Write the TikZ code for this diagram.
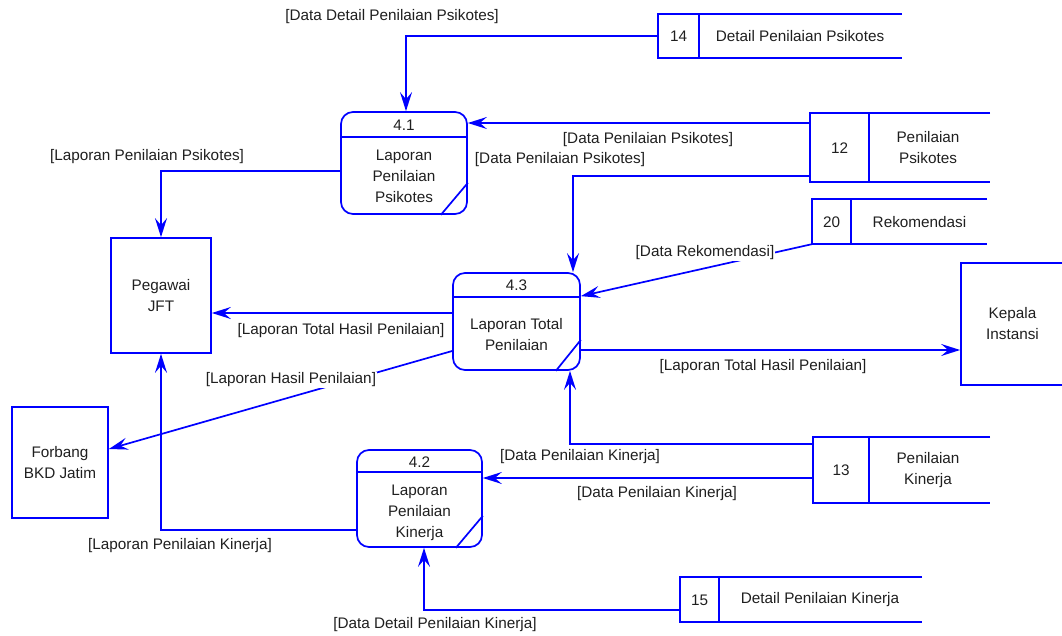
\documentclass[tikz,border=0pt]{standalone}
\usepackage{fontspec}
\setmainfont{Liberation Sans}
\usetikzlibrary{arrows.meta,calc}
\begin{document}
\begin{tikzpicture}[x=1pt,y=-1pt,
  line/.style={draw=blue, line width=1.7pt},
  proc/.style={line, rectangle, rounded corners=12pt, inner sep=0pt},
  ent/.style={line, rectangle, inner sep=0pt, align=center, text=black!88},
  store/.style={rectangle, inner sep=0pt},
  flow/.style={line, -{Stealth[length=19pt,width=12pt,inset=7pt]}},
  lbl/.style={fill=white, inner sep=1pt, text=black!88},
  txt/.style={align=center, inner sep=0pt, text=black!88},
  every node/.append style={font=\fontsize{15.3}{21}\selectfont}
]
\useasboundingbox (0,0) rectangle (1062,636);

% ---------- processes ----------
\node[proc, minimum width=126pt, minimum height=102pt] (p41) at (404,163) {};
\node[proc, minimum width=127pt, minimum height=97pt]  (p43) at (516.5,321.5) {};
\node[proc, minimum width=125pt, minimum height=97pt]  (p42) at (419.5,498.5) {};

\draw[line] ([yshift=-26pt]p41.north west) -- ([yshift=-26pt]p41.north east);
\draw[line] ([xshift=-27pt]p41.south east) -- ([yshift=32pt]p41.south east);
\draw[line] ([yshift=-25pt]p43.north west) -- ([yshift=-25pt]p43.north east);
\draw[line] ([xshift=-25pt]p43.south east) -- ([yshift=31pt]p43.south east);
\draw[line] ([yshift=-23pt]p42.north west) -- ([yshift=-23pt]p42.north east);
\draw[line] ([xshift=-27pt]p42.south east) -- ([yshift=32pt]p42.south east);

\node[txt] (p41n) at (404,125) {4.1};
\node[txt] (p41t) at (404,176) {Laporan\\Penilaian\\Psikotes};
\node[txt] (p43n) at (516.5,285) {4.3};
\node[txt] (p43t) at (516.5,334.5) {Laporan Total\\Penilaian};
\node[txt] (p42n) at (419.5,462) {4.2};
\node[txt] (p42t) at (419.5,512.5) {Laporan\\Penilaian\\Kinerja};

% ---------- external entities ----------
\node[ent, minimum width=100pt, minimum height=115pt] (peg)  at (161,295.5) {Pegawai\\JFT};
\node[ent, minimum width=96pt,  minimum height=111pt] (forb) at (60,462.5) {Forbang\\BKD Jatim};
\node[ent, minimum width=103pt, minimum height=122pt] (kep)  at (1012.5,324) {Kepala\\Instansi};

% ---------- data stores ----------
\node[store, minimum width=244pt, minimum height=44pt] (s14) at (780,36) {};
\node[store, minimum width=180pt, minimum height=69pt] (s12) at (900,147.5) {};
\node[store, minimum width=175pt, minimum height=45pt] (s20) at (899.5,221.5) {};
\node[store, minimum width=177pt, minimum height=66pt] (s13) at (901.5,470) {};
\node[store, minimum width=242pt, minimum height=45pt] (s15) at (801,599.5) {};

\foreach \s/\d in {s14/41, s12/59, s20/39, s13/56, s15/39}{
  \draw[line] (\s.north east) -- (\s.north west) -- (\s.south west) -- (\s.south east);
  \draw[line] ([xshift=\d pt]\s.north west) -- ([xshift=\d pt]\s.south west);
}

\node[txt] (s14i) at (678.5,36) {14};
\node[txt] (s14t) at (800,36) {Detail Penilaian Psikotes};
\node[txt] (s12i) at (839.5,148) {12};
\node[txt] (s12t) at (928,148) {Penilaian\\Psikotes};
\node[txt] (s20i) at (831.5,222) {20};
\node[txt] (s20t) at (919.5,222) {Rekomendasi};
\node[txt] (s13i) at (841,470) {13};
\node[txt] (s13t) at (928,470) {Penilaian\\Kinerja};
\node[txt] (s15i) at (699.5,600) {15};
\node[txt] (s15t) at (820,600) {Detail Penilaian Kinerja};

% ---------- data flows ----------
\coordinate (s12a) at (810,123);
\coordinate (s12b) at (810,176);
\coordinate (s13a) at (813,444);
\coordinate (s13b) at (813,478);
\coordinate (s15a) at (680,610);
\coordinate (p41w) at ([yshift=-8pt]p41.west);
\coordinate (p43w1) at ([yshift=8.5pt]p43.west);
\coordinate (p43w2) at ([yshift=-29.5pt]p43.west);
\coordinate (p43e) at ([yshift=-28.5pt]p43.east);
\coordinate (p42w) at ([yshift=-31.5pt]p42.west);

\draw[flow] (s14.west) -| ([xshift=2pt]p41.north);
\draw[flow] (s12a) -- (s12a -| p41.east);
\draw[flow] (s12b) -| ([xshift=56.5pt]p43.north);
\draw[flow] (s20.south west) -- ([yshift=-24pt]p43.north east);
\draw[flow] (p41w) -| (peg.north);
\draw[flow] (p43w1) -- (p43w1 -| peg.east);
\draw[flow] (p43w2) -- ([yshift=13.5pt]forb.east);
\draw[flow] (p43e) -- (p43e -| kep.west);
\draw[flow] (s13a) -| ([xshift=53.5pt]p43.south);
\draw[flow] (s13b) -- (s13b -| p42.east);
\draw[flow] (p42w) -| (peg.south);
\draw[flow] (s15a) -| ([xshift=4.5pt]p42.south);

% ---------- flow labels ----------
\node[lbl] (l1)  at (392,17)  {[Data Detail Penilaian Psikotes]};
\node[lbl] (l2)  at (648,140) {[Data Penilaian Psikotes]};
\node[lbl] (l3)  at (560,160) {[Data Penilaian Psikotes]};
\node[lbl] (l4)  at (147,157) {[Laporan Penilaian Psikotes]};
\node[lbl] (l5)  at (705,253) {[Data Rekomendasi]};
\node[lbl] (l6)  at (341,331) {[Laporan Total Hasil Penilaian]};
\node[lbl] (l7)  at (291,380) {[Laporan Hasil Penilaian]};
\node[lbl] (l8)  at (763,367) {[Laporan Total Hasil Penilaian]};
\node[lbl] (l9)  at (580,457) {[Data Penilaian Kinerja]};
\node[lbl] (l10) at (657,494) {[Data Penilaian Kinerja]};
\node[lbl] (l11) at (180,546) {[Laporan Penilaian Kinerja]};
\node[lbl] (l12) at (435,625) {[Data Detail Penilaian Kinerja]};
\end{tikzpicture}
\end{document}
